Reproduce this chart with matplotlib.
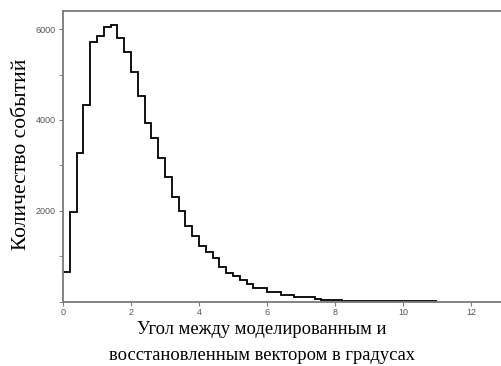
import numpy as np
import matplotlib
matplotlib.use("Agg")
import matplotlib.pyplot as plt
from matplotlib.ticker import MultipleLocator

# Histogram of angle (degrees), bin width 0.2
bin_width = 0.2
counts = [650, 1980, 3270, 4320, 5720, 5850, 6050, 6100, 5800, 5500,
          5050, 4530, 3940, 3600, 3170, 2740, 2310, 1990, 1660, 1440,
          1230, 1100, 950, 760, 635, 560, 475, 385, 300, 300,
          220, 220, 145, 145, 105, 105, 105, 55, 30, 30,
          30, 20, 15, 15, 15, 12, 12, 10, 10, 10,
          8, 8, 8, 6, 6]
edges = np.arange(len(counts) + 1) * bin_width

xticks = [0, 2, 4, 6, 8, 10, 12]
yticks = [2000, 4000, 6000]
ylabel = "Количество событий"
xlabel = "Угол между моделированным и\nвосстановленным вектором в градусах"

fig = plt.figure(figsize=(5.01, 3.66), dpi=100)
ax = fig.add_axes([63/501, (366-301.5)/366, (501-63)/501, (301.5-11)/366])

ax.stairs(counts, edges, color="black", linewidth=1.3, baseline=None)

ax.set_xlim(0, (501-63)/34)
ax.set_ylim(0, 6400)
ax.set_xticks(xticks)
ax.set_yticks(yticks)
ax.yaxis.set_minor_locator(MultipleLocator(1000))

grey = "#7a7a7a"
for s in ["left", "top", "bottom"]:
    ax.spines[s].set_color(grey)
    ax.spines[s].set_linewidth(1.3)
ax.spines["right"].set_visible(False)

ax.tick_params(axis="both", which="both", direction="out", length=3,
               color=grey, labelcolor="#555555", labelsize=6.5, pad=2)
for lab in ax.get_xticklabels() + ax.get_yticklabels():
    lab.set_family("Liberation Sans")

ax.set_ylabel(ylabel, family="Liberation Serif", fontsize=15.5)
ax.yaxis.set_label_coords(-0.073, 0.505)
ax.set_xlabel(xlabel, family="Liberation Serif", fontsize=13.3,
              linespacing=1.65)
ax.xaxis.set_label_coords(0.454, -0.068)

fig.savefig("out.png", dpi=100)
